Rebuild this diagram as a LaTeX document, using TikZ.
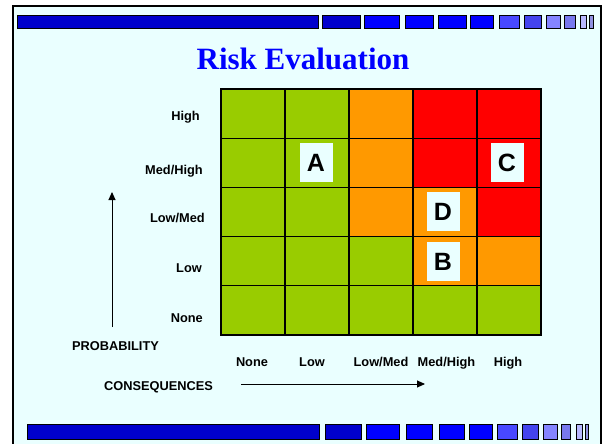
\documentclass[tikz,border=0pt]{standalone}
\usepackage{fontspec}
\setmainfont{Liberation Serif}
\setsansfont{Liberation Sans}
\usetikzlibrary{arrows.meta}
\definecolor{slidebg}{HTML}{EAFFFF}
\definecolor{riskgreen}{HTML}{99CC00}
\definecolor{riskorange}{HTML}{FF9900}
\definecolor{riskred}{HTML}{FF0000}
\definecolor{bardark}{HTML}{0000CC}
\definecolor{barblue}{HTML}{0000FF}
\definecolor{barmid}{HTML}{4848FF}
\definecolor{barmidb}{HTML}{4444EE}
\definecolor{barlight}{HTML}{8484FF}
\definecolor{barlightb}{HTML}{7878EE}
\definecolor{barpale}{HTML}{B8B8FF}
\definecolor{barpaleb}{HTML}{9090E0}

\begin{document}
\begin{tikzpicture}[x=1pt,y=-1pt,
  axislabel/.style={font=\sffamily\bfseries\fontsize{12.8}{14}\selectfont,inner sep=0pt},
  markbox/.style={fill=slidebg,minimum width=33pt,minimum height=39pt,inner sep=0pt,
    font=\sffamily\bfseries\fontsize{25}{28}\selectfont,text height=18pt,text depth=0pt},
  bar/.style={draw=black,line width=0.8pt}]
  \useasboundingbox (0,0) rectangle (602,444);
  \fill[slidebg] (13,6) rectangle (601,444);
  \draw[line width=2pt] (13,450) -- (13,6) -- (601,6) -- (601,450);
  % bars top and bottom
  \foreach \a/\b/\c in {17/318/bardark,322/360/bardark,364/399/barblue,405/433/barblue,
      438/466/barblue,470/493/barblue,499/519/barmid,524/541/barmidb,546/560/barlight,
      564/575/barlightb,580/586/barpale,589/593/barpaleb}
    \filldraw[bar,fill=\c] (\a,15) rectangle (\b,28);
  \foreach \a/\b/\c in {27/319/bardark,325/361/bardark,366/399/barblue,406/432/barblue,
      439/464/barblue,469/492/barblue,497/517/barmid,522/538/barmidb,543/557/barlight,
      561/570/barlightb,576/582/barpale,585/588/barpaleb}
    \filldraw[bar,fill=\c] (\a,424) rectangle (\b,439);
  % title
  \node[anchor=base,text=blue,font=\bfseries\fontsize{31}{34}\selectfont,inner sep=0pt]
    (title) at (303,70) {Risk Evaluation};
  % matrix
  \foreach \r/\cols in {0/{riskgreen,riskgreen,riskorange,riskred,riskred},
      1/{riskgreen,riskgreen,riskorange,riskred,riskred},
      2/{riskgreen,riskgreen,riskorange,riskorange,riskred},
      3/{riskgreen,riskgreen,riskgreen,riskorange,riskorange},
      4/{riskgreen,riskgreen,riskgreen,riskgreen,riskgreen}}
    \foreach \k [count=\i from 0] in \cols
      \filldraw[fill=\k,draw=black,line width=1.2pt]
        ({221+64*\i},{89+49.2*\r}) rectangle ++(64,49.2);
  \node[markbox] (mark-a) at (316,162.5) {A};
  \node[markbox] (mark-c) at (507,162.5) {C};
  \node[markbox] (mark-d) at (443,211.5) {D};
  \node[markbox] (mark-b) at (443,261.5) {B};
  % probability labels
  \foreach \t/\x/\y [count=\n] in {High/200/120,Med\slash High/203/174,Low\slash Med/205/222.5,
      Low/202/272,None/203/322}
    \node[axislabel,anchor=base east] (prob-\n) at (\x,\y) {\t};
  % consequence labels
  \foreach \t/\x [count=\n] in {None/252,Low/312,Low\slash Med/381,Med\slash High/446.5,High/508}
    \node[axislabel,anchor=base] (cons-\n) at (\x,366) {\t};
  \node[axislabel,anchor=base] (problabel) at (115.5,350.5) {PROBABILITY};
  \node[axislabel,anchor=base] (conslabel) at (158.5,390) {CONSEQUENCES};
  \coordinate (pstart) at (112,327);
  \coordinate (pend) at (112,192);
  \coordinate (cstart) at (241,384);
  \coordinate (cend) at (425,384);
  \draw[line width=0.9pt,-{Triangle[length=8pt,width=7pt]}] (pstart) -- (pend);
  \draw[line width=0.9pt,-{Triangle[length=8pt,width=7pt]}] (cstart) -- (cend);
\end{tikzpicture}
\end{document}
